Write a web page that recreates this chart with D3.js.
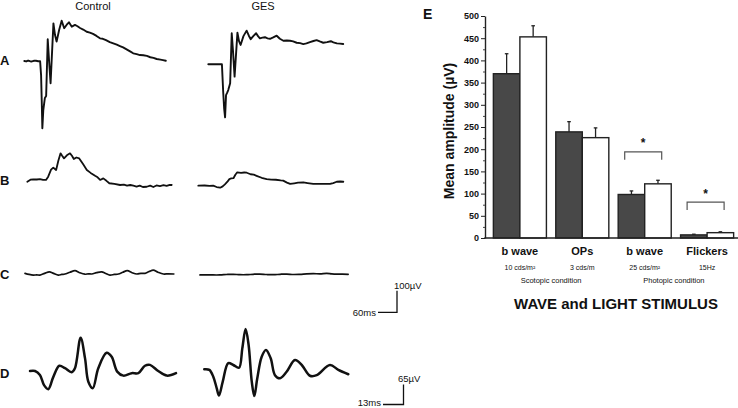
<!DOCTYPE html>
<html><head><meta charset="utf-8">
<script src="https://cdn.jsdelivr.net/npm/d3@7"></script>
<style>
body{margin:0;background:#fff}
svg{display:block}
text{font-family:"Liberation Sans",Arial,Helvetica,sans-serif;fill:#111}
</style>
</head><body>
<svg id="c" width="738" height="408"></svg>
<script>
// ---------------- DATA ----------------
// Bar chart (panel E)
const groups = ["bw10", "ops", "bw25", "flk"];
const groupLabels = ["b wave", "OPs", "b wave", "Flickers"];
const stimulusLabels = ["10 cds/m²", "3 cds/m", "25 cds/m²", "15Hz"];
const conditionLabels = ["Scotopic condition", "Photopic condition"];
const seriesNames = ["Control", "GES"];
const controlMeans = [370, 239, 98, 7];
const controlErr = [45, 23, 8, 1.5];
const gesMeans = [453, 226, 122, 12];
const gesErr = [25, 22, 8, 2];
const sigGroups = ["bw25", "flk"];
const sigHeights = [194, 81];
const yTicks = [0, 50, 100, 150, 200, 250, 300, 350, 400, 450, 500];
const yMinorTicks = [25, 75, 125, 175, 225, 275, 325, 375, 425, 475];

// ERG traces: [time ms, amplitude µV]
const traceA_control = [[0,0],[6,-2],[12,2],[18,-1],[24,-2],[30,1],[37,1],[44,-1],[50,-1],[53,-64],[55,-177],[57,-306],[60,-223],[65,-168],[69,-159],[74,99],[78,5],[83,-101],[92,171],[97,118],[102,88],[110,141],[118,183],[126,149],[134,165],[141,176],[150,156],[160,164],[168,158],[176,150],[186,143],[197,133],[207,129],[217,123],[228,114],[239,103],[248,101],[258,95],[270,86],[281,80],[292,74],[302,68],[312,62],[323,53],[334,44],[344,35],[355,31],[365,27],[376,26],[387,23],[398,17],[408,14],[418,9],[430,6],[438,4],[447,1]];
const traceA_ges = [[0,0],[43,0],[47,-125],[50,-200],[53,-241],[56,-140],[60,-128],[63,-117],[69,-86],[74,141],[78,60],[83,-56],[92,144],[97,105],[102,88],[111,128],[121,153],[128,130],[134,114],[142,128],[151,141],[157,128],[163,118],[171,121],[179,123],[187,118],[195,116],[205,122],[216,130],[226,116],[237,107],[248,108],[258,107],[268,104],[279,98],[290,96],[300,92],[310,95],[321,101],[332,106],[342,110],[352,104],[363,98],[375,101],[387,105],[395,100],[406,95],[416,94],[426,92]];
const traceB_control = [[0,0],[10,9],[19,11],[30,10],[40,12],[50,8],[59,8],[66,23],[75,55],[82,64],[91,53],[98,95],[105,129],[110,118],[116,106],[125,120],[135,129],[141,118],[147,103],[155,110],[164,106],[176,80],[188,53],[200,40],[214,27],[222,20],[230,8],[240,15],[250,4],[259,-7],[275,-10],[293,-15],[305,-13],[315,-18],[325,-15],[335,-18],[345,-22],[355,-18],[365,-24],[377,-23],[388,-18],[398,-24],[408,-17],[419,-20],[430,-16],[440,-19],[450,-14],[456,-15]];
const traceB_ges = [[0,0],[20,1],[35,-1],[47,0],[58,-6],[69,-9],[77,-3],[84,6],[92,18],[98,30],[104,33],[111,34],[117,50],[123,61],[135,58],[145,60],[153,59],[165,52],[175,50],[184,45],[200,36],[216,30],[230,28],[245,27],[260,24],[268,23],[280,14],[290,8],[303,11],[315,14],[332,15],[345,12],[363,8],[380,8],[400,8],[416,8],[426,12],[437,18],[448,19],[458,18]];
const traceC_control = [[0,3],[13,-2],[26,-5],[37,-4],[47,-5],[62,3],[77,10],[90,3],[105,-5],[116,-2],[126,0],[142,8],[158,15],[172,6],[189,-1],[200,1],[211,0],[226,6],[242,10],[255,2],[268,-5],[282,-2],[295,0],[309,8],[323,15],[338,6],[353,0],[366,3],[379,3],[392,11],[405,18],[420,8],[437,0],[453,1],[470,0]];
const traceC_ges = [[0,-2],[30,-2],[63,-2],[84,0],[105,1],[126,-1],[147,-1],[168,1],[189,2],[210,0],[232,-1],[253,1],[274,2],[295,0],[316,1],[337,3],[358,4],[379,3],[400,5],[416,3],[432,2],[450,2],[468,1]];
const traceD_control = [[0,0],[3.2,0],[6.3,-13],[8.9,-46],[11.6,-59],[14.8,-19],[18.6,17],[22.2,9],[26.4,-4],[28.5,9],[32.1,108],[34.9,41],[37,-35],[39.8,-56],[43.3,9],[48.6,59],[51.8,46],[55.3,-2],[59.2,-15],[64.5,-7],[68.7,-7],[72.9,17],[76.1,20],[81.3,0],[86.7,-15],[92.6,-7]];
const traceD_ges = [[0,0],[3.2,-2],[5.7,-24],[7.9,-62],[9.3,-85],[11.7,-40],[15.2,20],[18.4,14],[22,5],[24.1,68],[26.2,131],[28.1,79],[30.1,-40],[31.7,-87],[33.6,-29],[36.4,41],[39.1,63],[42.1,36],[44.8,-19],[48,-29],[52.2,-8],[57.5,30],[61.8,14],[67,-21],[71.3,-19],[79.7,14],[85,-2],[91.3,-16]];
const scaleBar1 = {ms: 60, uv: 100};
const scaleBar2 = {ms: 13, uv: 65};

// ---------------- DRAW ----------------
const svg = d3.select("#c");
const ink = "#111";

// column titles
svg.append("text").attr("x", 93).attr("y", 10).attr("text-anchor", "middle").attr("font-size", 11).text(seriesNames[0]);
svg.append("text").attr("x", 263).attr("y", 10).attr("text-anchor", "middle").attr("font-size", 11).text(seriesNames[1]);

// panel letters
[["A", 65], ["B", 184.5], ["C", 279], ["D", 377.5]].forEach(([t, y]) => {
  svg.append("text").attr("x", 0).attr("y", y).attr("font-size", 13).attr("font-weight", "bold").text(t);
});

// trace panels
function tracePanel(data, x0, y0, msRef, pxMs, uvRef, pxUv, curve, width) {
  const x = d3.scaleLinear().domain([0, msRef]).range([x0, x0 + pxMs]);
  const y = d3.scaleLinear().domain([0, uvRef]).range([y0, y0 - pxUv]);
  const line = d3.line().x(d => x(d[0])).y(d => y(d[1])).curve(curve);
  svg.append("path").attr("d", line(data)).attr("fill", "none").attr("stroke", ink)
    .attr("stroke-width", width).attr("stroke-linejoin", "round").attr("stroke-linecap", "round");
  return {x, y};
}
const cr = d3.curveCatmullRom.alpha(0.5);
tracePanel(traceA_control, 24.3, 61, 60, 19, 100, 22, d3.curveLinear, 1.9);
tracePanel(traceA_ges, 208.3, 64.3, 60, 19, 100, 22, d3.curveLinear, 1.9);
tracePanel(traceB_control, 27.3, 181.7, 60, 19, 100, 22, d3.curveLinear, 1.8);
tracePanel(traceB_ges, 198.3, 185.7, 60, 19, 100, 22, d3.curveLinear, 1.8);
tracePanel(traceC_control, 25, 274, 60, 19, 100, 22, cr, 1.7);
tracePanel(traceC_ges, 200, 274.5, 60, 19, 100, 22, cr, 1.7);
tracePanel(traceD_control, 30, 371, 13, 20.5, 65, 20, cr, 2.5);
tracePanel(traceD_ges, 204.3, 369.3, 13, 20.5, 65, 20, cr, 2.5);

// scale bars
function scaleBar(sb, xr, yb, pxMs, pxUv, msLabelX, uvLabelX, uvLabelY, msLabelY) {
  const x = d3.scaleLinear().domain([0, sb.ms]).range([xr - pxMs, xr]);
  const y = d3.scaleLinear().domain([0, sb.uv]).range([yb, yb - pxUv]);
  svg.append("path").attr("d", `M${x(0)},${y(0)}H${x(sb.ms)}V${y(sb.uv)}`)
    .attr("fill", "none").attr("stroke", ink).attr("stroke-width", 1.3);
  svg.append("text").attr("x", uvLabelX).attr("y", uvLabelY).attr("font-size", 9.5).text(sb.uv + "µV");
  svg.append("text").attr("x", msLabelX).attr("y", msLabelY).attr("text-anchor", "end").attr("font-size", 9.5).text(sb.ms + "ms");
}
scaleBar(scaleBar1, 397, 312.3, 19, 21.6, 376, 394, 288.5, 315.5);
scaleBar(scaleBar2, 403.5, 404.5, 20.5, 20, 381, 398, 382, 406);

// ---------- Panel E bar chart ----------
const yS = d3.scaleLinear().domain([0, 500]).range([238, 16]);
const xB = d3.scaleBand().domain(groups).range([489, 738]).paddingInner(0.15).paddingOuter(0.07);
const xSub = d3.scaleBand().domain(seriesNames).range([0, xB.bandwidth()]);

svg.append("text").attr("x", 423).attr("y", 19).attr("font-size", 14).attr("font-weight", "bold").text("E");

const series = [
  {name: "Control", means: controlMeans, errs: controlErr, fill: "#484848"},
  {name: "GES", means: gesMeans, errs: gesErr, fill: "#ffffff"}
];
series.forEach(s => {
  groups.forEach((g, i) => {
    const bx = xB(g) + xSub(s.name);
    const bw = xSub.bandwidth();
    const cx = bx + bw / 2;
    svg.append("line").attr("x1", cx).attr("x2", cx).attr("y1", yS(s.means[i])).attr("y2", yS(s.means[i] + s.errs[i]))
      .attr("stroke", "#222").attr("stroke-width", 1.3);
    svg.append("line").attr("x1", cx - 1.8).attr("x2", cx + 1.8).attr("y1", yS(s.means[i] + s.errs[i])).attr("y2", yS(s.means[i] + s.errs[i]))
      .attr("stroke", "#222").attr("stroke-width", 1.3);
    svg.append("rect").attr("x", bx).attr("y", yS(s.means[i])).attr("width", bw).attr("height", yS(0) - yS(s.means[i]))
      .attr("fill", s.fill).attr("stroke", "#222").attr("stroke-width", 1.4);
  });
});

// y axis
const yAxis = svg.append("g").attr("transform", "translate(485,0)")
  .call(d3.axisLeft(yS).tickValues(yTicks).tickSize(4).tickSizeOuter(0).tickPadding(2));
yAxis.selectAll("text").attr("font-size", 9).attr("font-weight", "bold")
  .style("font-family", '"Liberation Sans",Arial,sans-serif').attr("fill", "#111");
yAxis.select(".domain").attr("stroke", "#222").attr("stroke-width", 1.4);
yAxis.selectAll(".tick line").attr("stroke", "#222");
const yMinor = svg.append("g").attr("transform", "translate(485,0)")
  .call(d3.axisLeft(yS).tickValues(yMinorTicks).tickSize(2).tickFormat(""));
yMinor.select(".domain").remove();
yMinor.selectAll(".tick line").attr("stroke", "#444");

// x axis line
svg.append("line").attr("x1", 484.3).attr("x2", 738).attr("y1", yS(0)).attr("y2", yS(0))
  .attr("stroke", "#222").attr("stroke-width", 1.4);

// y title
svg.append("text").attr("transform", `translate(454,${(yS(0) + yS(500)) / 2 + 4}) rotate(-90)`)
  .attr("text-anchor", "middle").attr("font-size", 14).attr("font-weight", "bold").text("Mean amplitude (µV)");

// group labels
groups.forEach((g, i) => {
  const cx = xB(g) + xB.bandwidth() / 2;
  svg.append("text").attr("x", cx).attr("y", 254.5).attr("text-anchor", "middle").attr("font-size", 11).attr("font-weight", "bold").text(groupLabels[i]);
  svg.append("text").attr("x", cx).attr("y", 270).attr("text-anchor", "middle").attr("font-size", 7).text(stimulusLabels[i]);
});
const cond1 = (xB(groups[0]) + xB(groups[1]) + xB.bandwidth()) / 2;
const cond2 = (xB(groups[2]) + xB(groups[3]) + xB.bandwidth()) / 2;
svg.append("text").attr("x", cond1).attr("y", 282.5).attr("text-anchor", "middle").attr("font-size", 7.5).text(conditionLabels[0]);
svg.append("text").attr("x", cond2 - 2).attr("y", 282.5).attr("text-anchor", "middle").attr("font-size", 7.5).text(conditionLabels[1]);

svg.append("text").attr("x", 616).attr("y", 308.5).attr("text-anchor", "middle").attr("font-size", 15).attr("font-weight", "bold").text("WAVE and LIGHT STIMULUS");

// significance brackets
sigGroups.forEach((g, i) => {
  const cx = xB(g) + xB.bandwidth() / 2 - 1.5;
  const yb = yS(sigHeights[i]);
  svg.append("path").attr("d", `M${cx - 18.5},${yb + 8}V${yb}H${cx + 18.5}V${yb + 8}`)
    .attr("fill", "none").attr("stroke", "#555").attr("stroke-width", 1.2);
  svg.append("text").attr("x", cx).attr("y", yb - 4.5).attr("text-anchor", "middle").attr("font-size", 12).attr("font-weight", "bold").text("*");
});
</script>
</body></html>
